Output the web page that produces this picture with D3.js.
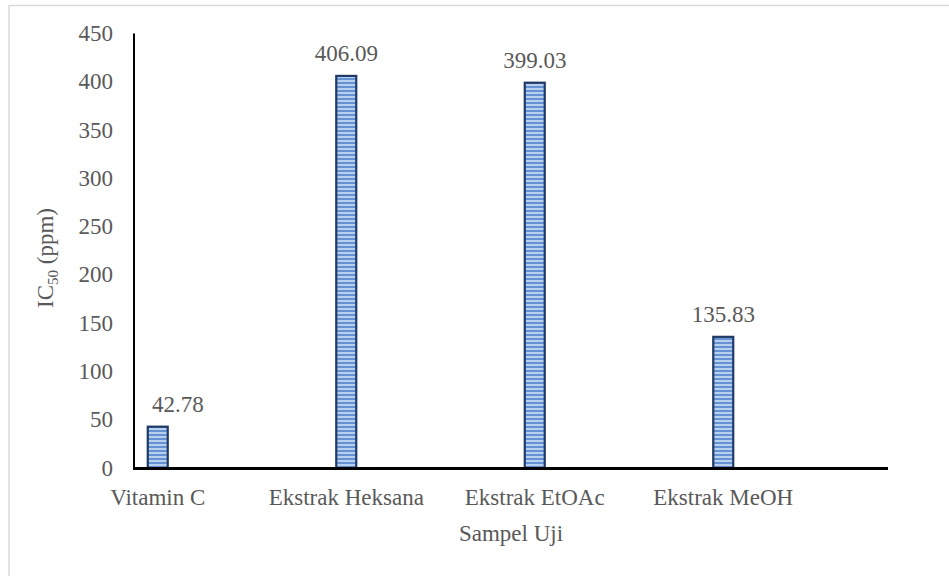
<!DOCTYPE html>
<html>
<head>
<meta charset="utf-8">
<script src="https://cdn.jsdelivr.net/npm/d3@7"></script>
<style>
  html, body { margin: 0; padding: 0; background: #fff; }
  svg { display: block; }
</style>
</head>
<body>
<svg id="chart" width="949" height="576"></svg>
<script>
// IC50 values of the test samples
const categories = ["Vitamin C", "Ekstrak Heksana", "Ekstrak EtOAc", "Ekstrak MeOH"];
const ic50Values = [42.78, 406.09, 399.03, 135.83];
const valueLabels = ["42.78", "406.09", "399.03", "135.83"];
const yTicks = [0, 50, 100, 150, 200, 250, 300, 350, 400, 450];

const FONT = "'Liberation Serif', 'Times New Roman', serif";
const TEXT_COLOR = "#595959";
const FS = 23;

const svg = d3.select("#chart");
const W = 949, H = 576;

// outer frame (only top and left edges fall inside the view)
svg.append("line").attr("x1", 9).attr("x2", W).attr("y1", 5.5).attr("y2", 5.5)
  .attr("stroke", "#d9d9d9").attr("stroke-width", 1.5);
svg.append("line").attr("x1", 9).attr("x2", 9).attr("y1", 5).attr("y2", H)
  .attr("stroke", "#d9d9d9").attr("stroke-width", 1.5);

const plot = { left: 134, right: 888, top: 33.5, bottom: 468 };

const x = d3.scaleBand().domain(categories).range([plot.left, plot.right]).paddingInner(0).paddingOuter(0);
const y = d3.scaleLinear().domain([0, 450]).range([plot.bottom, plot.top]);

const barOffset = x.bandwidth() * 0.073;
const barWidth = x.bandwidth() * 0.106;
const barCenter = c => x(c) + barOffset + barWidth / 2;

// striped fill
const defs = svg.append("defs");
const pat = defs.append("pattern").attr("id", "stripes")
  .attr("patternUnits", "userSpaceOnUse").attr("width", 8).attr("height", 4);
pat.append("rect").attr("width", 8).attr("height", 4).attr("fill", "#b9cfee");
pat.append("rect").attr("y", 2).attr("width", 8).attr("height", 2).attr("fill", "#6592d2");

function txt(sel) {
  return sel.attr("font-family", FONT).attr("fill", TEXT_COLOR).attr("font-size", FS);
}

// y tick labels
svg.append("g").selectAll("text").data(yTicks).join("text")
  .call(txt)
  .attr("x", 113).attr("y", d => y(d)).attr("dy", "0.33em")
  .attr("text-anchor", "end").text(d => d);

// bars
const data = categories.map((c, i) => ({ c, v: ic50Values[i], label: valueLabels[i] }));
svg.append("g").selectAll("rect").data(data).join("rect")
  .attr("x", d => x(d.c) + barOffset)
  .attr("y", d => y(d.v))
  .attr("width", barWidth)
  .attr("height", d => y(0) - y(d.v))
  .attr("fill", "url(#stripes)")
  .attr("stroke", "#1f3a66").attr("stroke-width", 2.2);

// value labels, kept clear of the value axis
svg.append("g").selectAll("text").data(data).join("text")
  .call(txt)
  .attr("y", d => y(d.v) - 15)
  .attr("text-anchor", "middle").text(d => d.label)
  .attr("x", function (d) {
    const w = this.getComputedTextLength();
    return Math.max(barCenter(d.c), plot.left + 18 + w / 2);
  });

// axes lines
svg.append("line").attr("x1", plot.left).attr("x2", plot.left)
  .attr("y1", plot.top).attr("y2", plot.bottom)
  .attr("stroke", "#000").attr("stroke-width", 2);
svg.append("line").attr("x1", plot.left - 1).attr("x2", plot.right)
  .attr("y1", plot.bottom + 0.5).attr("y2", plot.bottom + 0.5)
  .attr("stroke", "#000").attr("stroke-width", 3);

// category labels
svg.append("g").selectAll("text").data(categories).join("text")
  .call(txt)
  .attr("x", c => barCenter(c)).attr("y", 505)
  .attr("text-anchor", "middle").text(c => c);

// axis titles
svg.append("text").call(txt)
  .attr("x", (plot.left + plot.right) / 2).attr("y", 541)
  .attr("text-anchor", "middle").text("Sampel Uji");

const yt = svg.append("text").call(txt)
  .attr("transform", "translate(53,258) rotate(-90)")
  .attr("text-anchor", "middle");
yt.append("tspan").text("IC");
yt.append("tspan").attr("font-size", 15).attr("dy", 5).text("50");
yt.append("tspan").attr("dy", -5).text(" (ppm)");
</script>
</body>
</html>
